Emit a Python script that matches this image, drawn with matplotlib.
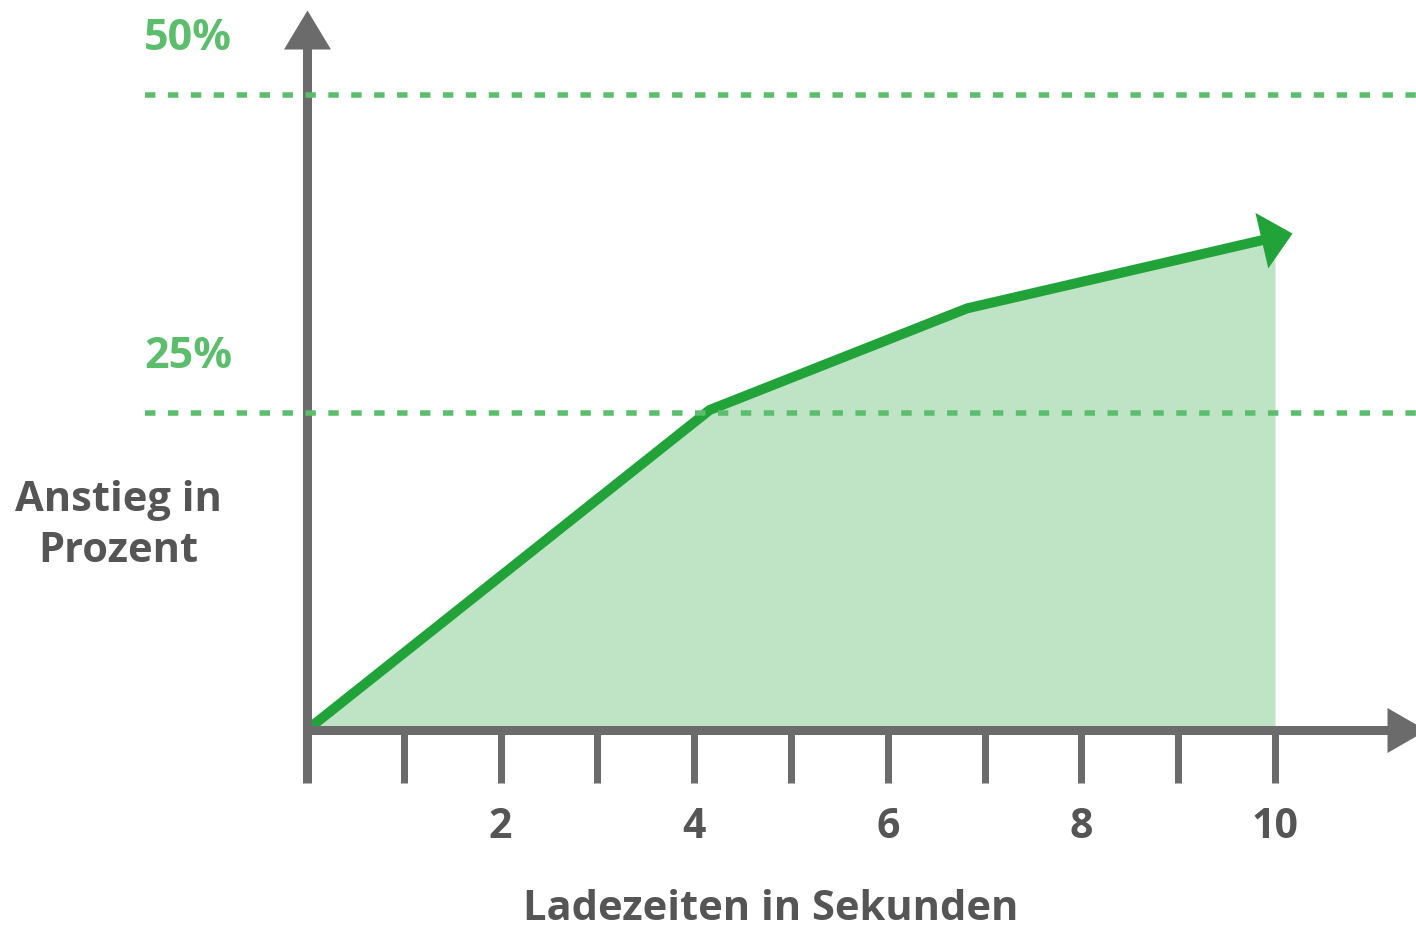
import numpy as np
import matplotlib
matplotlib.use("Agg")
import matplotlib.pyplot as plt
from matplotlib.path import Path
from matplotlib.markers import MarkerStyle
from matplotlib.transforms import Affine2D

plt.rcParams['font.family'] = ['Open Sans', 'DejaVu Sans']
plt.rcParams['lines.scale_dashes'] = False

# data
load_times = [0, 4.16, 6.82, 10]
increase = [0, 25.2, 33.2, 38.8]
ref_levels = [25, 50]
ref_labels = ["25%", "50%"]
tick_positions = list(range(0, 11))
tick_labels = ["2", "4", "6", "8", "10"]
labeled_ticks = [2, 4, 6, 8, 10]

gray = "#6b6b6b"
text_gray = "#555555"
green = "#22a33a"
light_green = "#5cbd6c"
fill_green = "#bfe4c5"

fig = plt.figure(figsize=(14.16, 9.31), dpi=100)
ax = fig.add_axes([0, 0, 1, 1])
ax.set_xlim(-307 / 96.8, (1416 - 307) / 96.8)
ax.set_ylim(-(931 - 730) / 12.7, 730 / 12.7)
ax.axis('off')

px = 0.72  # points per pixel at 100 dpi


def head_marker(back, fwd, hw, angle):
    verts = [(-back, -hw), (fwd, 0), (-back, hw), (-back, -hw)]
    size = 2 * max(back, fwd, hw) * px
    m = MarkerStyle(Path(verts, closed=True), transform=Affine2D().rotate_deg(angle))
    return m, size


# area and line
ax.fill_between(load_times, increase, 0, color=fill_green, lw=0, zorder=1)
ax.plot(load_times, increase, color=green, lw=10 * px, solid_joinstyle='round',
        solid_capstyle='butt', zorder=3)

# arrow head on the line, oriented along last segment in display space
p1 = ax.transData.transform((load_times[-2], increase[-2]))
p2 = ax.transData.transform((load_times[-1], increase[-1]))
ang = np.degrees(np.arctan2(p2[1] - p1[1], p2[0] - p1[0]))
m, s = head_marker(14, 17.5, 28.5, ang)
ax.plot([load_times[-1]], [increase[-1]], marker=m, markersize=s, color=green,
        markeredgewidth=0, zorder=3)

# axes
y_top = (730 - 48) / 12.7
x_right = (1388 - 307) / 96.8
tick_bottom = -(783 - 730) / 12.7
ax.plot([0, 0], [tick_bottom, y_top], color=gray, lw=9 * px, solid_capstyle='butt', zorder=4)
ax.plot([0, x_right], [0, 0], color=gray, lw=9 * px, solid_capstyle='butt', zorder=4)
m, s = head_marker(1, 38, 23.5, 90)
ax.plot([0], [y_top], marker=m, markersize=s, color=gray, markeredgewidth=0, zorder=4)
m, s = head_marker(1, 38, 22.5, 0)
ax.plot([x_right], [0], marker=m, markersize=s, color=gray, markeredgewidth=0, zorder=4)

for t in tick_positions[1:]:
    ax.plot([t, t], [0, tick_bottom], color=gray, lw=7 * px, solid_capstyle='butt', zorder=4)

for t, lab in zip(labeled_ticks, tick_labels):
    ax.text(t, -(828 - 730) / 12.7, lab, ha='center', va='center', fontsize=29.5,
            fontweight='bold', color=text_gray)

# reference lines
for lvl, lab in zip(ref_levels, ref_labels):
    ax.plot([-1.67, 11.6], [lvl, lvl], color=light_green, lw=5.5 * px,
            dashes=(7.5, 9), dash_capstyle='butt', zorder=5)
    ax.annotate(lab, (-1.23, lvl), xytext=(0, 56 * px), textcoords='offset points',
                ha='center', va='center', fontsize=31, fontweight='bold', color=light_green)

# axis titles
ax.text(-1.95, -(526 - 730) / 12.7, "Anstieg in\nProzent", ha='center', va='center',
        multialignment='center', linespacing=1.3, fontsize=30, fontweight='bold',
        color=text_gray)
ax.text(4.79, -(910 - 730) / 12.7, "Ladezeiten in Sekunden", ha='center', va='center',
        fontsize=30, fontweight='bold', color=text_gray)

fig.savefig("out.png", dpi=100)
